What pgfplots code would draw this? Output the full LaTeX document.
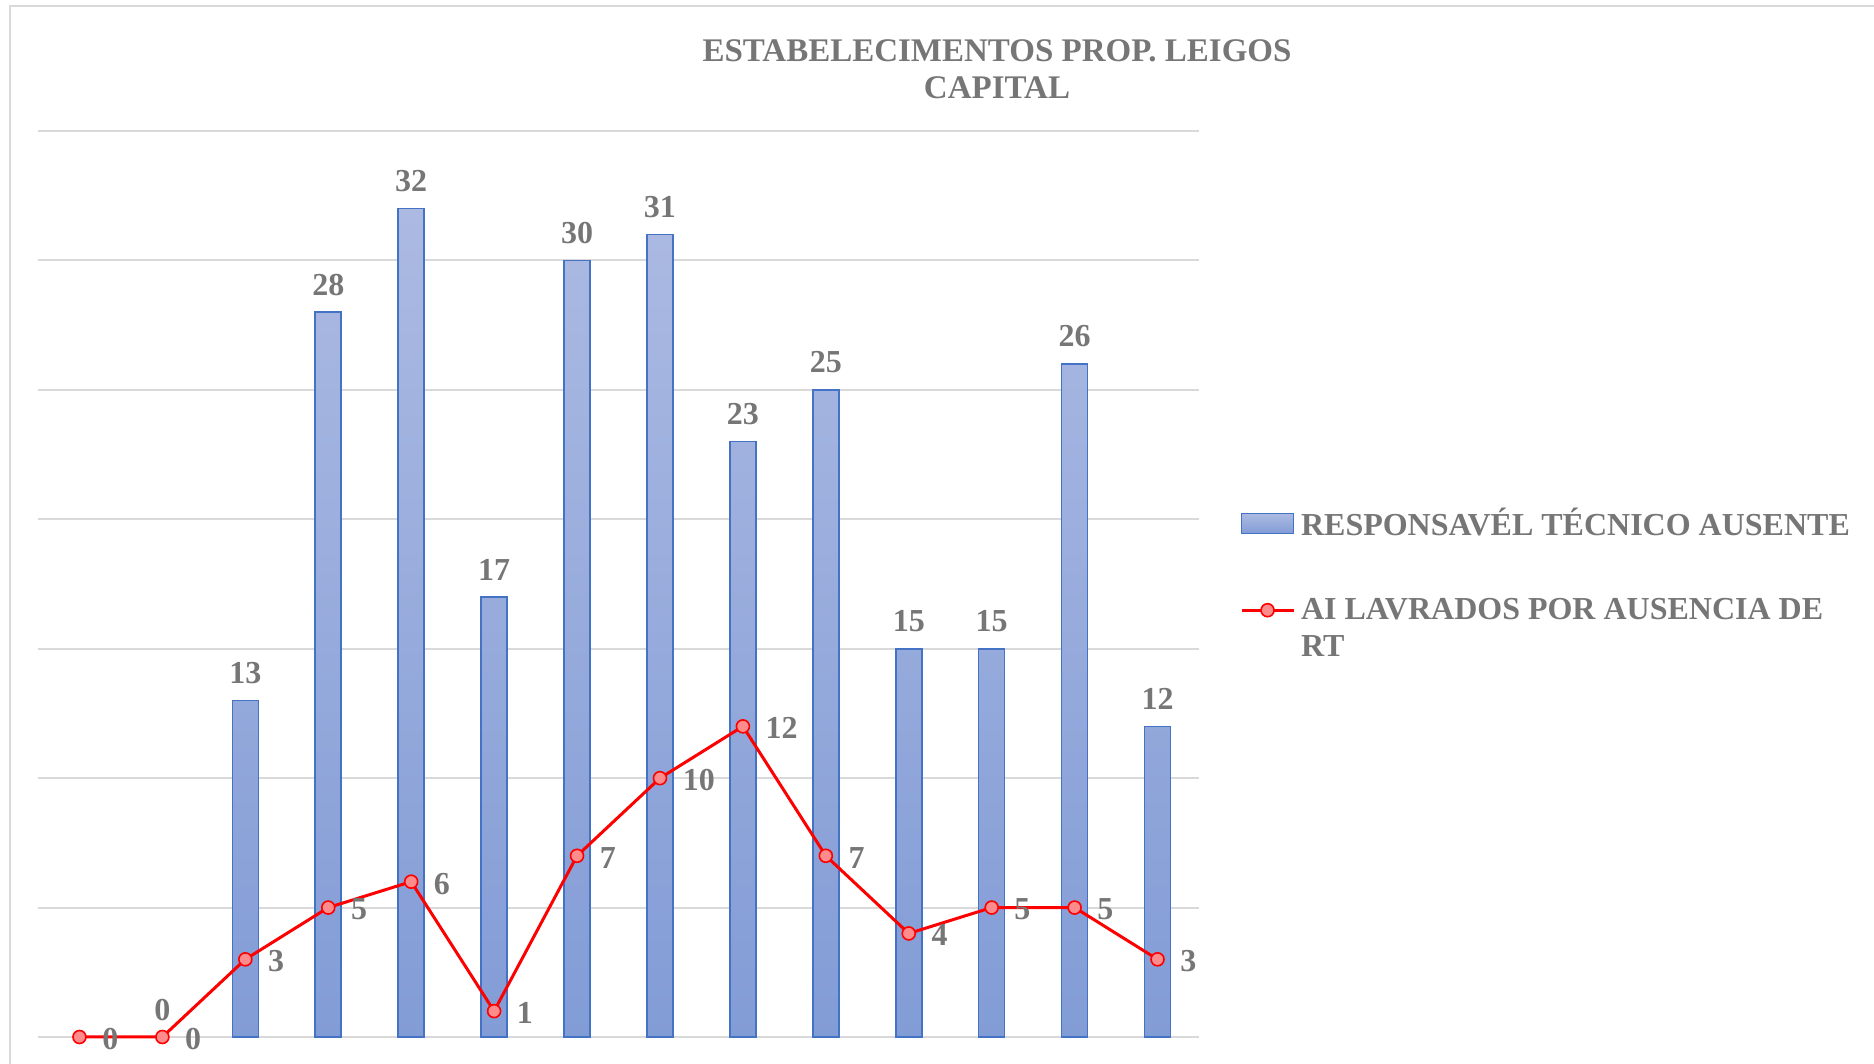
\documentclass[border=0pt]{standalone}
\usepackage{fontspec}
\setmainfont{Liberation Serif}
\usepackage{pgfplots}
\pgfplotsset{compat=1.18}
\definecolor{barTop}{RGB}{172,186,226}
\definecolor{barBot}{RGB}{130,156,214}
\definecolor{barEdge}{RGB}{68,114,196}
\definecolor{markFill}{RGB}{255,140,140}
\definecolor{textGray}{RGB}{118,118,118}
\definecolor{gridGray}{RGB}{217,217,217}
\pgfplotsset{
  barlegend/.style={legend image code/.code={\draw[##1] (0pt,-5pt) rectangle (26pt,5pt);}},
  linelegend/.style={legend image code/.code={\path[draw=none, fill=none] (0pt,-13pt) -- (0pt,13pt);
     \draw[##1, mark repeat=2, mark phase=2] plot coordinates {(0pt,9.5pt) (13pt,9.5pt) (26pt,9.5pt)};}},
}
\begin{document}
\begin{tikzpicture}
\useasboundingbox (-19pt,-13.5pt) rectangle (918pt,518.5pt);
\draw[color=gridGray, line width=1pt] (-14pt,-20pt) -- (-14pt,515.5pt) -- (930pt,515.5pt);
\node[align=center, font=\fontsize{16.5}{18.5}\selectfont\bfseries, text=textGray] at (479.5pt,484pt) {ESTABELECIMENTOS PROP. LEIGOS\\CAPITAL};
\begin{axis}[
  at={(0pt,0pt)}, anchor=south west,
  scale only axis, width=580.5pt, height=453pt,
  xmin=-0.5, xmax=13.5, ymin=0, ymax=35,
  ytick={0,5,...,35}, yticklabels={}, xtick=\empty,
  ymajorgrids, grid style={color=gridGray, line width=1pt},
  axis line style={draw=none}, major tick length=0pt,
  clip=false,
  /pgf/number format/assume math mode=true,
  legend style={at={(1.035,0.50)}, anchor=west, draw=none, fill=none,
    font=\fontsize{16}{18.5}\selectfont\bfseries, text=textGray,
    cells={anchor=west, align=left}, row sep=28pt, column sep=2pt, inner sep=0pt,
    nodes={inner sep=1pt}},
]
\addplot[ybar, bar width=13pt, bar shift=0pt, draw=barEdge, line width=0.8pt,
  top color=barTop, bottom color=barBot, barlegend,
  nodes near coords,
  nodes near coords style={anchor=south, inner sep=0pt, yshift=8pt, text=textGray, font=\fontsize{16}{18}\selectfont\bfseries}]
  coordinates {(2,13) (3,28) (4,32) (5,17) (6,30) (7,31) (8,23) (9,25) (10,15) (11,15) (12,26) (13,12)};
\addlegendentry{RESPONSAVÉL TÉCNICO AUSENTE}
\addplot[ybar, bar width=13pt, bar shift=0pt, draw=none, fill=none, forget plot,
  nodes near coords,
  nodes near coords style={anchor=south, inner sep=0pt, yshift=8pt, text=textGray, font=\fontsize{16}{18}\selectfont\bfseries}]
  coordinates {(1,0)};
\addplot[color=red, line width=1.5pt, mark=*, mark size=3.25pt,
  mark options={fill=markFill, draw=red, line width=0.8pt}, linelegend,
  nodes near coords,
  nodes near coords style={anchor=west, inner sep=0pt, xshift=11pt, yshift=-1pt, text=textGray, font=\fontsize{16}{18}\selectfont\bfseries}]
  coordinates {(0,0) (1,0) (2,3) (3,5) (4,6) (5,1) (6,7) (7,10) (8,12) (9,7) (10,4) (11,5) (12,5) (13,3)};
\addlegendentry{AI LAVRADOS POR AUSENCIA DE\\RT}
\end{axis}
\end{tikzpicture}
\end{document}
